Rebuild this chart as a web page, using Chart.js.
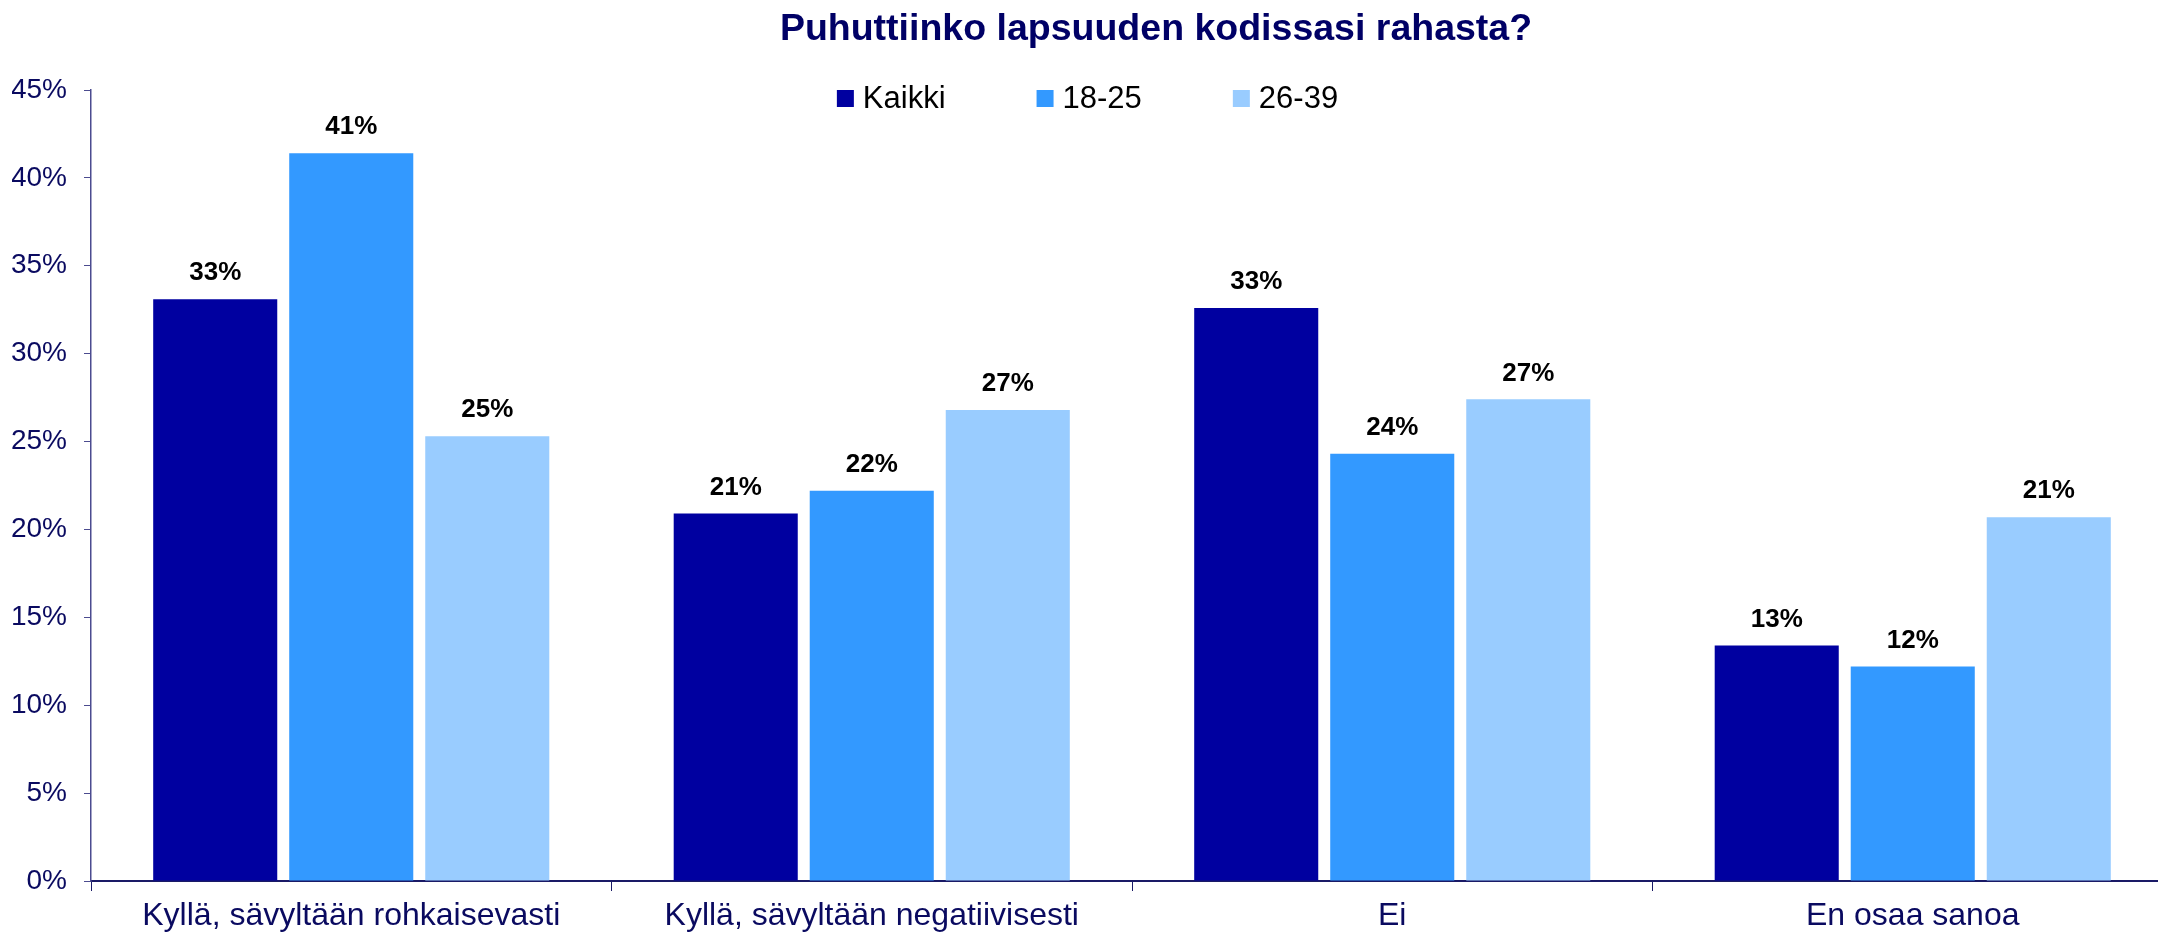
<!DOCTYPE html>
<html>
<head>
<meta charset="utf-8">
<script src="https://cdn.jsdelivr.net/npm/chart.js@4"></script>
<style>
  html, body { margin: 0; padding: 0; background: #fff; overflow: hidden; }
  #wrap { width: 2175px; height: 936px; }
</style>
</head>
<body>
<div id="wrap"><canvas id="chart"></canvas></div>
<script>
const categories = ['Kyllä, sävyltään rohkaisevasti', 'Kyllä, sävyltään negatiivisesti', 'Ei', 'En osaa sanoa'];
const seriesNames = ['Kaikki', '18-25', '26-39'];
const kaikki = [33.1, 20.9, 32.6, 13.4];
const age18to25 = [41.4, 22.2, 24.3, 12.2];
const age26to39 = [25.3, 26.8, 27.4, 20.7];
const colors = ['#0000A0', '#3399FF', '#99CCFF'];
const yTicks = [0, 5, 10, 15, 20, 25, 30, 35, 40, 45];

const navy = '#0A0A60';
const font = 'Liberation Sans, Arial, sans-serif';

// value labels above each bar
const barLabels = {
  id: 'barLabels',
  afterDatasetsDraw(chart) {
    const ctx = chart.ctx;
    ctx.save();
    ctx.font = 'bold 26px ' + font;
    ctx.fillStyle = '#000';
    ctx.textAlign = 'center';
    ctx.textBaseline = 'middle';
    chart.data.datasets.forEach((ds, i) => {
      chart.getDatasetMeta(i).data.forEach((bar, j) => {
        ctx.fillText(Math.round(ds.data[j]) + '%', bar.x, bar.y - 26);
      });
    });
    ctx.restore();
  }
};

// title in the original sits a bit right of the plot centre
const titleShift = {
  id: 'titleShift',
  afterLayout(chart) {
    const t = chart.titleBlock;
    if (t) { t.left += 24; t.right += 24; }
  }
};

// legend sits inside the plot area, so draw it by hand
const topLegend = {
  id: 'topLegend',
  afterDraw(chart) {
    const ctx = chart.ctx;
    const box = 17, gap = 9, spacing = 91, cy = 98.5;
    ctx.save();
    ctx.font = '31px ' + font;
    ctx.textBaseline = 'middle';
    const ds = chart.data.datasets;
    const widths = ds.map(d => box + gap + ctx.measureText(d.label).width);
    const total = widths.reduce((a, b) => a + b, 0) + spacing * (ds.length - 1);
    let x = chart.width / 2 - total / 2;
    ds.forEach((d, i) => {
      ctx.fillStyle = d.backgroundColor;
      ctx.fillRect(x, cy - box / 2, box, box);
      ctx.fillStyle = '#000';
      ctx.fillText(d.label, x + box + gap, cy + 1);
      x += widths[i] + spacing;
    });
    ctx.restore();
  }
};

new Chart(document.getElementById('chart'), {
  type: 'bar',
  data: {
    labels: categories,
    datasets: [
      { label: seriesNames[0], data: kaikki, backgroundColor: colors[0] },
      { label: seriesNames[1], data: age18to25, backgroundColor: colors[1] },
      { label: seriesNames[2], data: age26to39, backgroundColor: colors[2] }
    ]
  },
  options: {
    responsive: true,
    maintainAspectRatio: false,
    animation: false,
    categoryPercentage: 0.784,
    barPercentage: 0.912,
    layout: { padding: { left: 12, right: 2, top: 0, bottom: 0 } },
    plugins: {
      legend: { display: false },
      tooltip: { enabled: false },
      title: {
        display: true,
        text: 'Puhuttiinko lapsuuden kodissasi rahasta?',
        color: '#000066',
        font: { family: font, size: 37.5, weight: 'bold' },
        padding: { top: 7, bottom: 38 },
        fullSize: false
      }
    },
    scales: {
      x: {
        afterFit(scale) { scale.height = 55; },
        grid: { drawOnChartArea: false, drawTicks: true, tickLength: 10, tickColor: '#1A1A66', offset: true },
        border: { color: '#1A1A66', width: 2 },
        ticks: { color: navy, font: { family: font, size: 32 }, padding: 6, maxRotation: 0 }
      },
      y: {
        min: 0,
        max: 45,
        afterBuildTicks(scale) { scale.ticks = yTicks.map(v => ({ value: v })); },
        afterFit(scale) { scale.width = 79; },
        grid: { drawOnChartArea: false, drawTicks: true, tickLength: 7, tickColor: '#4B4B8F' },
        border: { color: '#4B4B8F', width: 1.5 },
        ticks: { color: navy, font: { family: font, size: 28 }, padding: 17, callback: v => v + '%' }
      }
    }
  },
  plugins: [barLabels, titleShift, topLegend]
});
</script>
</body>
</html>
